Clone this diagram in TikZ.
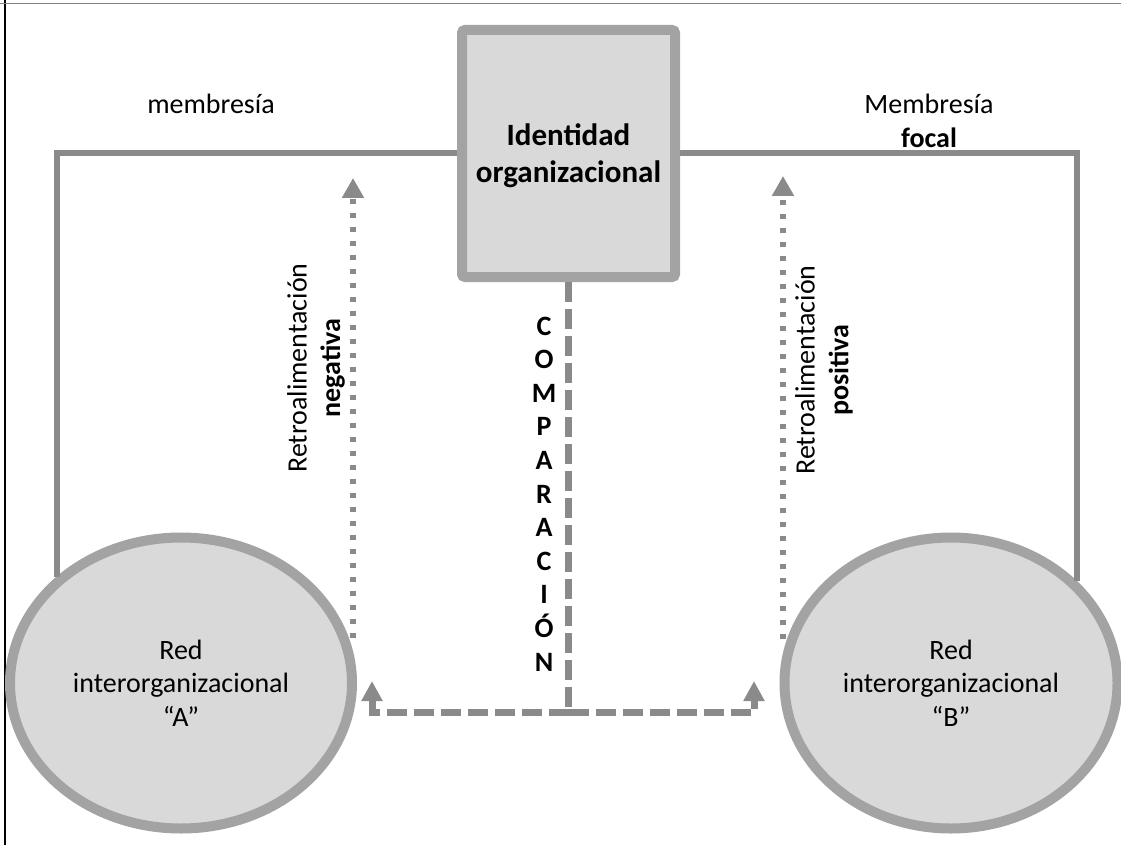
\documentclass[tikz,border=0pt]{standalone}
\usepackage{fontspec}
\setmainfont{Carlito}
\usetikzlibrary{arrows.meta, shapes.geometric, positioning}

\definecolor{linegray}{HTML}{8A8A8A}
\definecolor{rimgray}{HTML}{A3A3A3}
\definecolor{fillgray}{HTML}{D9D9D9}

\begin{document}
\begin{tikzpicture}[x=1pt, y=-1pt,
  net node/.style={ellipse, draw=rimgray, line width=10pt, fill=fillgray, minimum width=342pt, minimum height=291pt, align=center, font=\fontsize{28}{33.6}\selectfont},
  id node/.style={rectangle, rounded corners=3pt, draw=rimgray, line width=10pt, fill=fillgray, minimum width=213pt, minimum height=247pt, text depth=0pt, align=center, font=\fontsize{31}{37}\selectfont\bfseries},
  member/.style={draw=linegray, line width=6pt},
  feedback/.style={draw=linegray, line width=5.5pt, dash pattern=on 5.5pt off 8.5pt, -{Triangle[width=21pt,length=20pt]}},
  compare/.style={draw=linegray, line width=7pt, dash pattern=on 20pt off 7pt},
  tip/.style={-{Triangle[width=20pt,length=20pt]}},
  txt/.style={align=center, font=\fontsize{28}{33.6}\selectfont}]
    \useasboundingbox (0,0) rectangle (1121,845);
    \fill[white] (0,0) rectangle (1121,845);
    \draw[black, line width=1.5pt] (5,0) -- (5,845);
    \draw[gray, line width=1.5pt] (0,3.5) -- (1121,3.5);

    \node[id node]  (ident) at (568.5,153.5) {Identidad\\organizacional};
    \node[net node] (netA)  at (181,683)     {Red\\interorganizacional\\“A”};
    \node[net node, minimum width=333pt] (netB) at (951,683) {Red\\interorganizacional\\“B”};

    \node[txt] (memA) at (211,104) {membresía};
    \node[txt] (memB) at (929,121) {Membresía\\\textbf{focal}};
    \node[txt, rotate=90] (fbtxtA) at (316,368) {Retroalimentación\\\textbf{negativa}};
    \node[txt, rotate=90] (fbtxtB) at (824,370) {Retroalimentación\\\textbf{positiva}};
    \node[txt, font=\fontsize{28}{33.6}\selectfont\bfseries] (cmptxt) at (544,494)
        {C\\O\\M\\P\\A\\R\\A\\C\\I\\Ó\\N};

    \coordinate (fbA) at (353,178);
    \coordinate (fbB) at (783,176);
    \coordinate (baseA) at (372,712);
    \coordinate (baseB) at (754,712);
    \coordinate (tipA) at (372,681);
    \coordinate (tipB) at (754,681);

    \draw[member] (ident.west) -| (netA.north west);
    \draw[member] (ident.east) -| (netB.39);

    \draw[feedback] (fbA |- netA.15) -- (fbA);
    \draw[feedback] (fbB |- netB.165) -- (fbB);

    \draw[compare] (ident.south) -- (ident.south |- baseA);
    \draw[compare, tip] (ident.south |- baseA) -- (baseA) -- (tipA);
    \draw[compare, tip] (ident.south |- baseB) -- (baseB) -- (tipB);
\end{tikzpicture}
\end{document}
